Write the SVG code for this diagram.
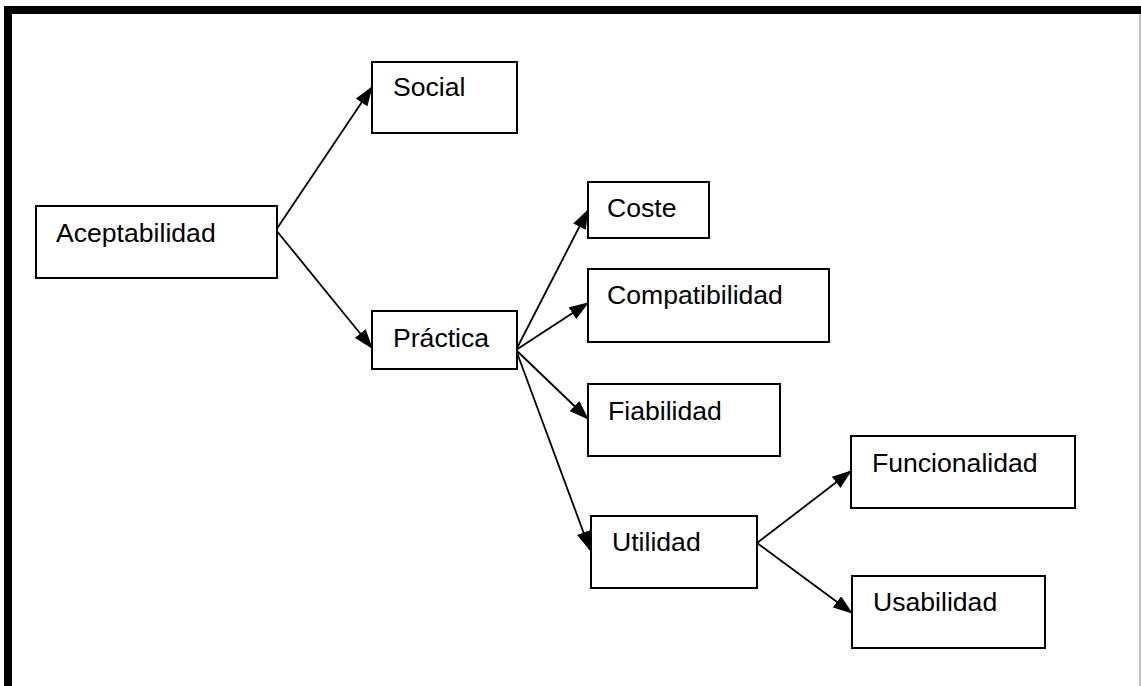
<svg xmlns="http://www.w3.org/2000/svg" width="1141" height="686" viewBox="0 0 1141 686">
<style>
.box{fill:#fff;stroke:#000;stroke-width:2}
.lbl{font-family:"Liberation Sans",Arial,sans-serif;font-size:26.6px;fill:#000}
.conn{stroke:#000;stroke-width:1.8;fill:none;marker-end:url(#ah)}
</style>
<defs>
<marker id="ah" markerUnits="userSpaceOnUse" markerWidth="20" markerHeight="14" viewBox="0 0 17 12" refX="16" refY="6" orient="auto">
<path d="M0,0 L17,6 L0,12 Z" fill="#000"/>
</marker>
</defs>
<rect width="1141" height="686" fill="#fff"/>
<g id="frame">
<rect x="4" y="6" width="1137" height="8" fill="#000"/>
<rect x="4" y="6" width="8" height="680" fill="#000"/>
<rect x="1139.5" y="14" width="1" height="672" fill="#808080"/>
</g>
<g id="connectors">
<line class="conn" x1="276" y1="230" x2="372" y2="87"/>
<line class="conn" x1="276" y1="230" x2="372" y2="348"/>
<line class="conn" x1="516" y1="350" x2="588" y2="210"/>
<line class="conn" x1="516" y1="350" x2="588" y2="303"/>
<line class="conn" x1="516" y1="350" x2="588" y2="419"/>
<line class="conn" x1="516" y1="350" x2="590" y2="550"/>
<line class="conn" x1="757" y1="543" x2="851" y2="471"/>
<line class="conn" x1="757" y1="543" x2="852" y2="613"/>
</g>
<g id="aceptabilidad"><rect class="box" x="36" y="206" width="241" height="72"/><text class="lbl" x="56" y="242">Aceptabilidad</text></g>
<g id="social"><rect class="box" x="372" y="62" width="145" height="71"/><text class="lbl" x="393" y="96">Social</text></g>
<g id="practica"><rect class="box" x="372" y="311" width="145" height="58"/><text class="lbl" x="393" y="347">Práctica</text></g>
<g id="coste"><rect class="box" x="588" y="182" width="121" height="56"/><text class="lbl" x="607" y="217">Coste</text></g>
<g id="compatibilidad"><rect class="box" x="588" y="269" width="241" height="73"/><text class="lbl" x="607" y="304">Compatibilidad</text></g>
<g id="fiabilidad"><rect class="box" x="588" y="384" width="192" height="72"/><text class="lbl" x="608" y="420">Fiabilidad</text></g>
<g id="utilidad"><rect class="box" x="591" y="516" width="166" height="72"/><text class="lbl" x="612" y="551">Utilidad</text></g>
<g id="funcionalidad"><rect class="box" x="851" y="436" width="224" height="72"/><text class="lbl" x="872" y="472">Funcionalidad</text></g>
<g id="usabilidad"><rect class="box" x="852" y="576" width="193" height="72"/><text class="lbl" x="873" y="611">Usabilidad</text></g>
</svg>
